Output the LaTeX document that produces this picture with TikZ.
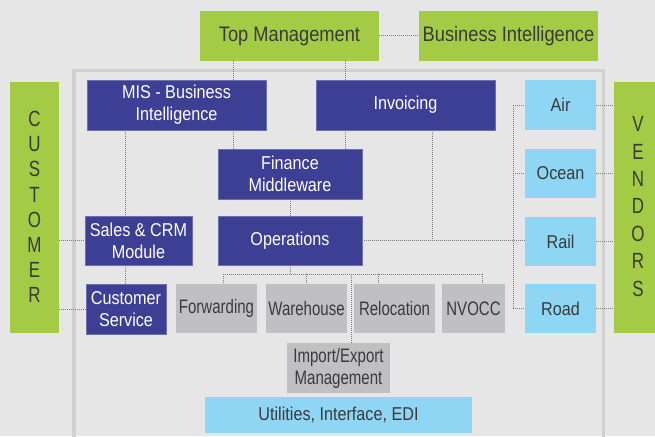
\documentclass[tikz,border=0pt]{standalone}
\usepackage{fontspec}
\setmainfont{Liberation Sans}
\newfontfamily\fa[FakeStretch=0.87]{Liberation Sans}
\newfontfamily\fb[FakeStretch=0.77]{Liberation Sans}
\definecolor{bgc}{HTML}{E6E6E6}
\definecolor{framec}{HTML}{D0D0D0}
\definecolor{greenc}{HTML}{A4CB45}
\definecolor{bluec}{HTML}{3D3F94}
\definecolor{lbc}{HTML}{8FD6F4}
\definecolor{grc}{HTML}{C0C0C2}
\definecolor{txtc}{HTML}{3A3A3A}
\definecolor{linec}{HTML}{7A7A7A}
\begin{document}
\begin{tikzpicture}[x=1pt,y=-1pt,
 bx/.style={inner sep=0pt, outer sep=0pt, align=center},
 gbox/.style={bx, fill=greenc, text=txtc, font=\fa\fontsize{21}{24}\selectfont},
 bbox/.style={bx, fill=bluec, draw=bluec!75!white, line width=0.5pt, text=white, font=\fa\fontsize{18.6}{22}\selectfont},
 lbox/.style={bx, fill=lbc, text=txtc, font=\fa\fontsize{18.6}{22}\selectfont},
 gybox/.style={bx, fill=grc, text=txtc, font=\fb\fontsize{19.5}{22}\selectfont},
 conn/.style={draw=linec, line width=1pt, dash pattern=on 1pt off 1pt},
]
\useasboundingbox (0,0) rectangle (655,436);
\fill[bgc] (0,0) rectangle (655,436);
\draw[framec, line width=3.5pt] (74,70.5) rectangle (603.5,450);

% top
\node[gbox, minimum width=179pt, minimum height=50pt] (tm) at (289.5,36) {Top Management};
\node[gbox, minimum width=179pt, minimum height=50pt] (bi) at (508.5,36) {Business Intelligence};

% blue boxes
\node[bbox, minimum width=179pt, minimum height=50pt] (mis) at (176.5,105) {MIS - Business\\Intelligence};
\node[bbox, minimum width=179pt, minimum height=50pt] (inv) at (405.5,105) {Invoicing};
\node[bbox, minimum width=144pt, minimum height=50pt] (fin) at (290,174) {Finance\\Middleware};
\node[bbox, minimum width=144pt, minimum height=49pt] (ops) at (290,240.5) {Operations};
\node[bbox, minimum width=107pt, minimum height=49pt] (sales) at (138.5,240.5) {Sales \& CRM\\Module};
\node[bbox, minimum width=80pt, minimum height=50pt] (cs) at (126,309) {Customer\\Service};

% gray boxes
\node[gybox, minimum width=81pt, minimum height=49pt] (fwd) at (216.5,308.5) {Forwarding};
\node[gybox, minimum width=81pt, minimum height=49pt] (wh) at (306.5,308.5) {Warehouse};
\node[gybox, minimum width=81pt, minimum height=49pt] (rel) at (394.5,308.5) {Relocation};
\node[gybox, minimum width=63pt, minimum height=49pt] (nv) at (473.5,308.5) {NVOCC};
\node[gybox, minimum width=103pt, minimum height=50pt] (imp) at (338.5,368) {Import/Export\\Management};

% light blue
\node[lbox, minimum width=267pt, minimum height=36pt] (util) at (338.5,415) {Utilities, Interface, EDI};
\node[lbox, minimum width=71pt, minimum height=50pt] (air) at (560.5,105) {Air};
\node[lbox, minimum width=71pt, minimum height=49pt] (ocean) at (560.5,173.5) {Ocean};
\node[lbox, minimum width=71pt, minimum height=49pt] (rail) at (560.5,241.5) {Rail};
\node[lbox, minimum width=71pt, minimum height=49pt] (road) at (560.5,308.5) {Road};

% side bars
\node[bx, fill=greenc, minimum width=49pt, minimum height=251pt] (cust) at (34.5,207.5) {};
\node[bx, text=txtc, font=\fb\fontsize{22}{25.2}\selectfont] (custt) at (34.5,207) {C\\U\\S\\T\\O\\M\\E\\R};
\node[bx, fill=greenc, minimum width=46pt, minimum height=251pt] (vend) at (637,207.5) {};
\node[bx, text=txtc, font=\fb\fontsize{22}{27.4}\selectfont] (vendt) at (638,206.5) {V\\E\\N\\D\\O\\R\\S};

% helper coordinates
\coordinate (xa) at (233,0);
\coordinate (xb) at (345,0);
\coordinate (xc) at (125,0);
\coordinate (xd) at (432,0);
\coordinate (xe) at (513,0);
\coordinate (busl) at (223,274);
\coordinate (busr) at (482,274);
\coordinate (bw) at (306,274);
\coordinate (br) at (378,274);
\coordinate (bimp) at (351,274);

% connectors
\draw[conn] (tm.east) -- (bi.west);
\draw[conn] (xa |- tm.south) -- (xa |- mis.north);
\draw[conn] (xb |- tm.south) -- (xb |- inv.north);
\draw[conn] (xc |- mis.south) -- (xc |- sales.north);
\draw[conn] (xa |- mis.south) -- (xa |- fin.north);
\draw[conn] (xb |- inv.south) -- (xb |- fin.north);
\draw[conn] (xd |- inv.south) -- (xd |- ops.east);
\draw[conn] (ops.east) -- (ops.east -| rail.west);
\draw[conn] (fin.south) -- (ops.north);
\draw[conn] (xc |- sales.south) -- (xc |- cs.north);
\draw[conn] (cust.east |- sales.west) -- (sales.west);
\draw[conn] (cust.east |- cs.west) -- (cs.west);
\draw[conn] (ops.south) -- (ops.south |- busl);
\draw[conn] (busl) -- (busr);
\draw[conn] (busl) -- (busl |- fwd.north);
\draw[conn] (bw) -- (bw |- wh.north);
\draw[conn] (br) -- (br |- rel.north);
\draw[conn] (busr) -- (busr |- nv.north);
\draw[conn] (bimp) -- (bimp |- imp.north);
\draw[conn] (xe |- air.west) -- (xe |- road.west);
\draw[conn] (xe |- air.west) -- (air.west);
\draw[conn] (xe |- ocean.west) -- (ocean.west);
\draw[conn] (xe |- road.west) -- (road.west);
\draw[conn] (air.east) -- (air.east -| vend.west);
\draw[conn] (ocean.east) -- (ocean.east -| vend.west);
\draw[conn] (rail.east) -- (rail.east -| vend.west);
\draw[conn] (road.east) -- (road.east -| vend.west);
\end{tikzpicture}
\end{document}
